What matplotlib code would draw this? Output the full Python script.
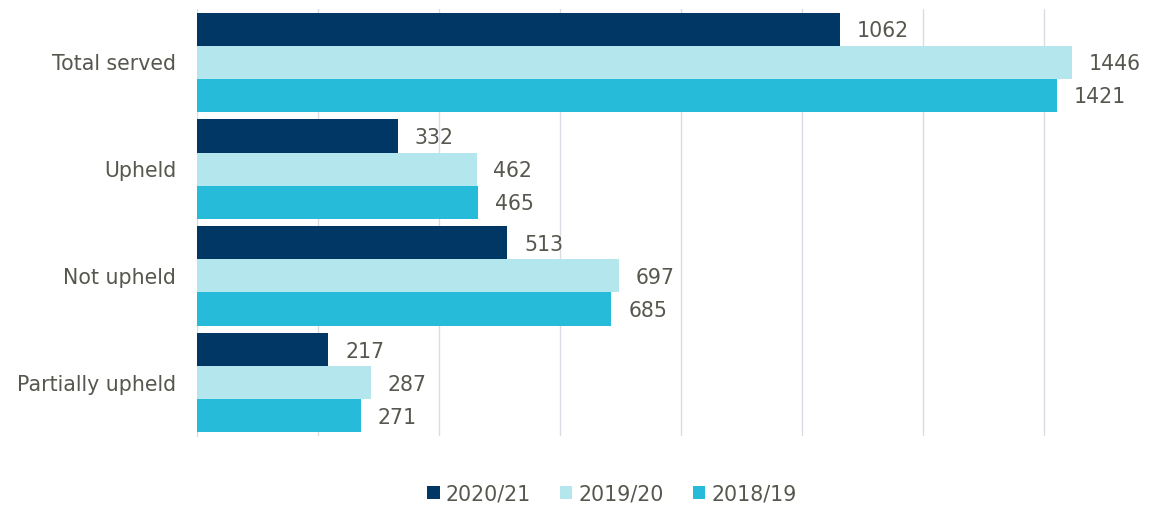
import matplotlib
matplotlib.use("Agg")
import matplotlib.pyplot as plt
from matplotlib.patches import Patch
import numpy as np

categories = ["Total served", "Upheld", "Not upheld", "Partially upheld"]
series_names = ["2020/21", "2019/20", "2018/19"]
v2020 = [1062, 332, 513, 217]
v2019 = [1446, 462, 697, 287]
v2018 = [1421, 465, 685, 271]
colors = ["#003764", "#b3e6ed", "#26bbd8"]
text_color = "#57574f"
fs = 14.8

plt.rcParams['font.family'] = ['DejaVu Sans']

fig = plt.figure(figsize=(11.65, 5.11), dpi=100)
ax = fig.add_axes([197/1165, 1-436/511, 1-197/1165, (436-9)/511])

y = np.arange(len(categories))
h = 0.31
offsets = [-h, 0, h]
for vals, c, off, name in zip([v2020, v2019, v2018], colors, offsets, series_names):
    bars = ax.barh(y + off, vals, height=h, color=c, label=name, zorder=3)
    for b, v in zip(bars, vals):
        ax.text(v + 28, b.get_y() + b.get_height()/2, f"{v}", va='center_baseline', ha='left',
                fontsize=fs, color=text_color)

ax.set_ylim(3.5, -0.5)
ax.set_xlim(0, 1600)
ax.set_xticks(np.arange(0, 1401, 200))
ax.set_xticklabels([])
ax.set_yticks(y)
ax.set_yticklabels(categories, fontsize=fs, color=text_color)
ax.tick_params(axis='both', length=0, pad=15)
ax.grid(axis='x', color='#d9dde3', linewidth=1, zorder=0)
for s in ['top', 'right', 'bottom']:
    ax.spines[s].set_visible(False)
ax.spines['left'].set_color('#d9dde3')
ax.spines['left'].set_zorder(0)

handles = [Patch(facecolor=c, edgecolor='none', label=n) for c, n in zip(colors, series_names)]
fig.legend(handles=handles, loc='center', bbox_to_anchor=(612/1165, 1-494/511), ncol=3,
           frameon=False, fontsize=fs, labelcolor=text_color,
           handlelength=0.6, handleheight=0.6, handletextpad=0.3, columnspacing=1.4)

fig.savefig("out.png", dpi=100)
